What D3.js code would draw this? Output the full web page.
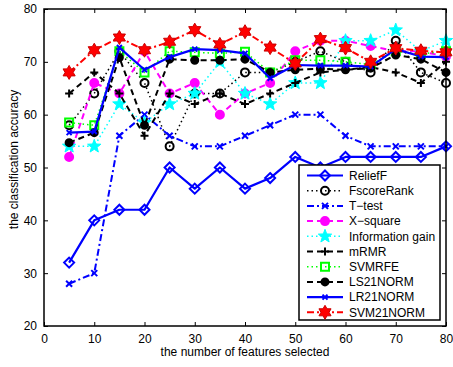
<!DOCTYPE html>
<html>
<head>
<meta charset="utf-8">
<script src="https://cdn.jsdelivr.net/npm/d3@7/dist/d3.min.js"></script>
<style>
  body { margin: 0; background: #fff; }
  text { font-family: "Liberation Sans", Arial, Helvetica, sans-serif; }
</style>
</head>
<body>
<div id="chart"></div>
<script>
// values
const features = [5, 10, 15, 20, 25, 30, 35, 40, 45, 50, 55, 60, 65, 70, 75, 80];
const xTicks = [0, 10, 20, 30, 40, 50, 60, 70, 80];
const yTicks = [20, 30, 40, 50, 60, 70, 80];

const reliefF    = [32, 40, 42, 42, 50, 46, 50, 46, 48, 52, 50, 52, 52, 52, 52, 54];
const fscoreRank = [58, 64, 72, 66, 54, 64, 64, 68, 68, 70, 72, 70, 68, 74, 68, 66];
const tTest      = [28, 30, 56, 60, 56, 54, 54, 56, 58, 60, 60, 56, 54, 54, 54, 54];
const xSquare    = [52, 66, 64, 72, 64, 66, 60, 64, 66, 72, 74, 74, 73, 72, 72, 71];
const infoGain   = [54, 54, 62, 58.5, 62, 64, 70, 64, 62, 66, 66, 74, 74, 76, 72, 74];
const mrmr       = [64, 68, 64, 56, 64, 62, 64, 62, 64, 66, 68, 68.5, 69, 68, 66, 70];
const svmrfe     = [58.5, 58, 72, 68, 72, 71.8, 71.6, 71.9, 68, 70.3, 70.3, 70, 69.5, 72, 71.5, 72];
const ls21norm   = [54.7, 56.6, 70.8, 58, 70.5, 70.3, 70.3, 70.5, 68, 68.5, 68.7, 68.5, 68.8, 71.3, 70.5, 68];
const lr21norm   = [56.6, 56.8, 72.7, 68.5, 70.9, 72.4, 72.2, 71.6, 66.9, 69.4, 69.3, 69.3, 69.1, 72.4, 71, 70.9];
const svm21norm  = [68, 72.2, 74.6, 72.2, 73.8, 76, 73.3, 75.7, 72.7, 69.7, 74.3, 72.6, 70, 72.6, 72.1, 71.8];

const seriesNames = ["ReliefF", "FscoreRank", "T\u2212test", "X\u2212square", "Information gain",
  "mRMR", "SVMRFE", "LS21NORM", "LR21NORM", "SVM21NORM"];
const seriesValues = [reliefF, fscoreRank, tTest, xSquare, infoGain, mrmr, svmrfe, ls21norm, lr21norm, svm21norm];

// matlab-ish line styles, one per series
const styles = [
  {color: "#0000ff", dash: null,        width: 2.2, marker: "diamond", size: 5,   fill: "none"},
  {color: "#000000", dash: "1.5,3",     width: 1.5, marker: "circle",  size: 4,   fill: "none"},
  {color: "#0000ff", dash: "7,3,2,3",   width: 2,   marker: "x",       size: 3,   fill: "none"},
  {color: "#ff00ff", dash: "6,4",       width: 2,   marker: "circle",  size: 4,   fill: "#ff00ff"},
  {color: "#00ffff", dash: "1.5,3",     width: 1.5, marker: "star",    size: 7,   fill: "#00ffff"},
  {color: "#000000", dash: "6,4",       width: 2,   marker: "plus",    size: 4,   fill: "none"},
  {color: "#00ff00", dash: "1.5,3",     width: 1.5, marker: "square",  size: 4,   fill: "none"},
  {color: "#000000", dash: "6,4",       width: 2,   marker: "circle",  size: 3.5, fill: "#000000"},
  {color: "#0000ff", dash: null,        width: 2.2, marker: "x",       size: 2.5, fill: "none"},
  {color: "#ff0000", dash: "7,3,2,3",   width: 2,   marker: "hexagram", size: 7,  fill: "#ff0000"}
];

const W = 453, H = 367;
const margin = {top: 9, right: 7, bottom: 41, left: 44};
const width = W - margin.left - margin.right,
      height = H - margin.top - margin.bottom;

const svg = d3.select("#chart")
  .append("svg")
  .attr("width", W)
  .attr("height", H)
  .append("g")
  .attr("transform", "translate(" + margin.left + "," + margin.top + ")");

const x = d3.scaleLinear().domain([0, 80]).range([0, width]);
const y = d3.scaleLinear().domain([20, 80]).range([height, 0]);

// marker shapes centred on 0,0
function markerPath(type, s) {
  if (type === "diamond") return `M0,${-s}L${s},0L0,${s}L${-s},0Z`;
  if (type === "x") return `M${-s},${-s}L${s},${s}M${-s},${s}L${s},${-s}`;
  if (type === "plus") return `M${-s},0L${s},0M0,${-s}L0,${s}`;
  if (type === "square") return `M${-s},${-s}h${2 * s}v${2 * s}h${-2 * s}Z`;
  if (type === "circle") {
    const p = d3.path();
    p.arc(0, 0, s, 0, 2 * Math.PI);
    return p.toString();
  }
  if (type === "star") {
    const pts = [];
    for (let i = 0; i < 10; i++) {
      const r = i % 2 === 0 ? s : s * 0.42;
      const a = -Math.PI / 2 + i * Math.PI / 5;
      pts.push([r * Math.cos(a), r * Math.sin(a)]);
    }
    return "M" + pts.map(p => p.join(",")).join("L") + "Z";
  }
  if (type === "hexagram") {
    const pts = [];
    for (let i = 0; i < 12; i++) {
      const r = i % 2 === 0 ? s : s * 0.58;
      const a = -Math.PI / 2 + i * Math.PI / 6;
      pts.push([r * Math.cos(a), r * Math.sin(a)]);
    }
    return "M" + pts.map(p => p.join(",")).join("L") + "Z";
  }
  return "";
}

// axes with inward ticks, box on all sides
const tickLen = 4;
svg.append("g")
  .attr("transform", `translate(0,${height})`)
  .call(d3.axisBottom(x).tickValues(xTicks).tickSize(-tickLen).tickPadding(8))
  .call(g => g.select(".domain").remove());
svg.append("g")
  .call(d3.axisTop(x).tickValues(xTicks).tickSize(-tickLen).tickFormat(""))
  .call(g => g.select(".domain").remove());
svg.append("g")
  .call(d3.axisLeft(y).tickValues(yTicks).tickSize(-tickLen).tickPadding(7))
  .call(g => g.select(".domain").remove());
svg.append("g")
  .attr("transform", `translate(${width},0)`)
  .call(d3.axisRight(y).tickValues(yTicks).tickSize(-tickLen).tickFormat(""))
  .call(g => g.select(".domain").remove());

svg.selectAll(".tick text")
  .attr("font-size", 12)
  .attr("font-family", "Liberation Sans, Arial, sans-serif")
  .attr("fill", "#000");
svg.selectAll(".tick line").attr("stroke", "#000");

// draw each series
const line = d3.line()
  .x((d, i) => x(features[i]))
  .y(d => y(d));

seriesValues.forEach((vals, k) => {
  const st = styles[k];
  const g = svg.append("g");
  g.append("path")
    .datum(vals)
    .attr("d", line)
    .attr("fill", "none")
    .attr("stroke", st.color)
    .attr("stroke-width", st.width)
    .attr("stroke-dasharray", st.dash)
    .attr("stroke-linejoin", "round");
  g.selectAll("path.mk")
    .data(vals)
    .enter()
    .append("path")
    .attr("class", "mk")
    .attr("transform", (d, i) => `translate(${x(features[i])},${y(d)})`)
    .attr("d", markerPath(st.marker, st.size))
    .attr("fill", st.fill)
    .attr("stroke", st.marker === "hexagram" ? "#cc0000" : st.color)
    .attr("stroke-width", st.marker === "star" || st.marker === "hexagram" ? 1 : 2);
});

// plot frame
svg.append("rect")
  .attr("width", width)
  .attr("height", height)
  .attr("fill", "none")
  .attr("stroke", "#000")
  .attr("stroke-width", 1.5);

// legend
const lg = svg.append("g")
  .attr("transform", `translate(${299 - margin.left},${165 - margin.top})`);
lg.append("rect")
  .attr("width", 141)
  .attr("height", 155)
  .attr("fill", "#fff")
  .attr("stroke", "#000")
  .attr("stroke-width", 1.5);

seriesNames.forEach((name, k) => {
  const st = styles[k];
  const yy = 10.5 + k * 15.2;
  lg.append("line")
    .attr("x1", 8).attr("x2", 44)
    .attr("y1", yy).attr("y2", yy)
    .attr("stroke", st.color)
    .attr("stroke-width", st.width)
    .attr("stroke-dasharray", st.dash);
  lg.append("path")
    .attr("transform", `translate(26,${yy})`)
    .attr("d", markerPath(st.marker, st.size))
    .attr("fill", st.fill)
    .attr("stroke", st.marker === "hexagram" ? "#cc0000" : st.color)
    .attr("stroke-width", st.marker === "star" || st.marker === "hexagram" ? 1 : 2);
  lg.append("text")
    .attr("x", 50)
    .attr("y", yy)
    .attr("dy", "0.36em")
    .attr("font-size", 12)
    .text(name);
});

// axis titles
svg.append("text")
  .attr("x", width / 2)
  .attr("y", height + 30)
  .attr("text-anchor", "middle")
  .attr("font-size", 12)
  .text("the number of features selected");

svg.append("text")
  .attr("transform", `translate(${14 - margin.left},${height / 2 - 8}) rotate(-90)`)
  .attr("text-anchor", "middle")
  .attr("dy", "0.36em")
  .attr("font-size", 12)
  .text("the classification accuracy");
</script>
</body>
</html>
